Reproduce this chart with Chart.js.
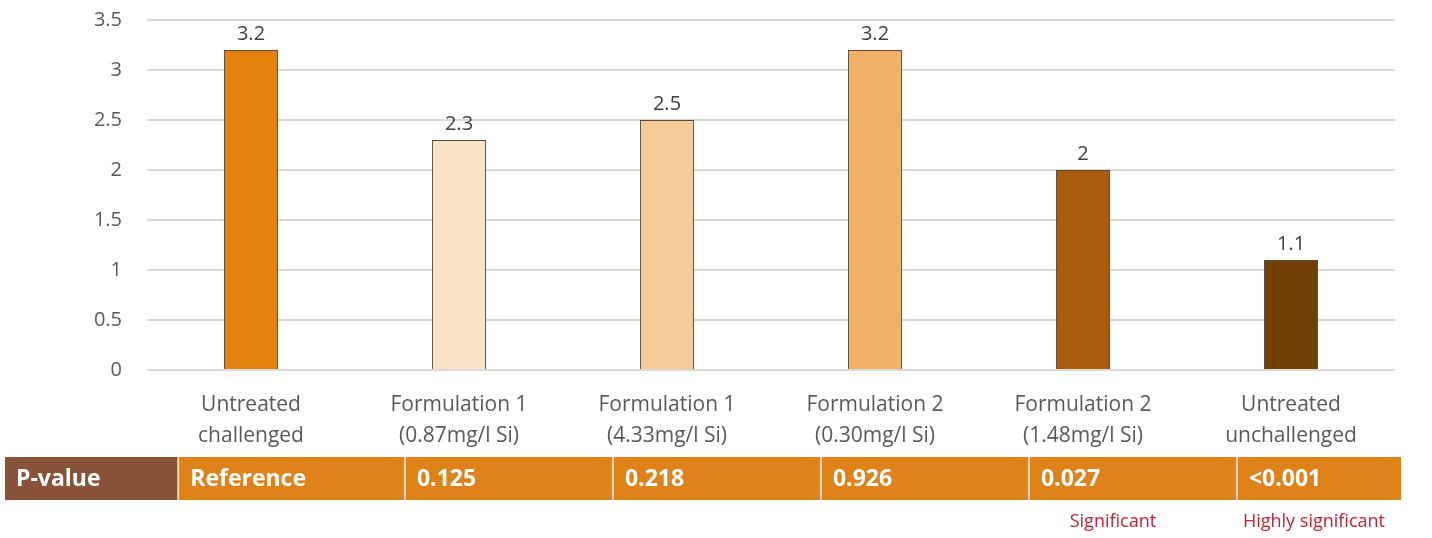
<!DOCTYPE html>
<html>
<head>
<meta charset="utf-8">
<script src="https://cdn.jsdelivr.net/npm/chart.js@4/dist/chart.umd.min.js"></script>
<style>
  html, body { margin: 0; padding: 0; background: #fff; }
  #wrap { width: 1432px; height: 538px; position: relative; }
</style>
</head>
<body>
<div id="wrap"><canvas id="chart" width="1432" height="538"></canvas></div>
<script>
var categories = [
    ['Untreated', 'challenged'],
    ['Formulation 1', '(0.87mg/l Si)'],
    ['Formulation 1', '(4.33mg/l Si)'],
    ['Formulation 2', '(0.30mg/l Si)'],
    ['Formulation 2', '(1.48mg/l Si)'],
    ['Untreated', 'unchallenged']
];
var values = [3.2, 2.3, 2.5, 3.2, 2, 1.1];
var pValues = ['Reference', '0.125', '0.218', '0.926', '0.027', '<0.001'];
var notes = ['', '', '', '', 'Significant', 'Highly significant'];
var barColors = ['#E3820F', '#FAE4C8', '#F5CC99', '#EFB267', '#A85E0D', '#6F3F06'];

var fontFam = "'Open Sans', 'Liberation Sans', sans-serif";

// value labels above bars
var valueLabels = {
    id: 'valueLabels',
    afterDatasetsDraw: function(chart) {
        var ctx = chart.ctx;
        var meta = chart.getDatasetMeta(0);
        ctx.save();
        ctx.font = '20px ' + fontFam;
        ctx.fillStyle = '#404040';
        ctx.textAlign = 'center';
        ctx.textBaseline = 'bottom';
        meta.data.forEach(function(bar, i) {
            ctx.fillText(String(values[i]), bar.x, bar.y - 6);
        });
        ctx.restore();
    }
};

// p-value table under the axis
var pTable = {
    id: 'pTable',
    afterDraw: function(chart) {
        var ctx = chart.ctx;
        var xs = chart.scales.x;
        var top = 457, h = 43;
        var step = xs.getPixelForValue(1) - xs.getPixelForValue(0);
        var lefts = [];
        for (var i = 0; i < pValues.length; i++) {
            var l = xs.getPixelForValue(i) - step * 0.26;
            if (i === 0) l = xs.getPixelForValue(0) - step * 0.35;
            lefts.push(l);
        }
        var right = xs.right + 6;
        ctx.save();
        ctx.fillStyle = '#89533A';
        ctx.fillRect(5, top, lefts[0] - 5, h);
        ctx.fillStyle = '#E0821A';
        ctx.fillRect(lefts[0], top, right - lefts[0], h);
        ctx.strokeStyle = '#F6D9B4';
        ctx.lineWidth = 2;
        lefts.forEach(function(l) {
            ctx.beginPath();
            ctx.moveTo(l, top);
            ctx.lineTo(l, top + h);
            ctx.stroke();
        });
        ctx.fillStyle = '#ffffff';
        ctx.font = 'bold 23px ' + fontFam;
        ctx.textAlign = 'left';
        ctx.textBaseline = 'middle';
        ctx.fillText('P-value', 16, top + h / 2 + 1);
        pValues.forEach(function(p, i) {
            ctx.fillText(p, lefts[i] + 12, top + h / 2 + 1);
        });
        ctx.fillStyle = '#C8202E';
        ctx.font = '18px ' + fontFam;
        ctx.textAlign = 'center';
        notes.forEach(function(n, i) {
            if (!n) return;
            var r = i + 1 < lefts.length ? lefts[i + 1] : right + 30;
            ctx.fillText(n, (lefts[i] + r) / 2 - 20, 522);
        });
        ctx.restore();
    }
};

new Chart(document.getElementById('chart'), {
    type: 'bar',
    data: {
        labels: categories,
        datasets: [{
            data: values,
            backgroundColor: barColors,
            borderColor: '#5b4a3c',
            borderWidth: 1,
            categoryPercentage: 1,
            barPercentage: 0.26
        }]
    },
    options: {
        responsive: false,
        animation: false,
        devicePixelRatio: 1,
        layout: { padding: { left: 0, right: 37, top: 20, bottom: 0 } },
        plugins: {
            legend: { display: false },
            tooltip: { enabled: false }
        },
        scales: {
            x: {
                afterFit: function(s) { s.height = 168; s.paddingTop = 0; s.paddingBottom = 0; },
                grid: { display: false },
                border: { display: false },
                ticks: {
                    color: '#595959',
                    font: { family: fontFam, size: 21, lineHeight: 1.5 },
                    padding: 11,
                    maxRotation: 0
                }
            },
            y: {
                min: 0,
                max: 3.5,
                afterFit: function(s) { s.width = 147; s.paddingTop = 0; s.paddingBottom = 0; },
                ticks: {
                    stepSize: 0.5,
                    color: '#595959',
                    font: { family: fontFam, size: 20 },
                    padding: 25,
                    callback: function(v) { return String(v); }
                },
                grid: { color: '#d9d9d9', lineWidth: 2, drawTicks: false },
                border: { display: false }
            }
        }
    },
    plugins: [valueLabels, pTable]
});
</script>
</body>
</html>
